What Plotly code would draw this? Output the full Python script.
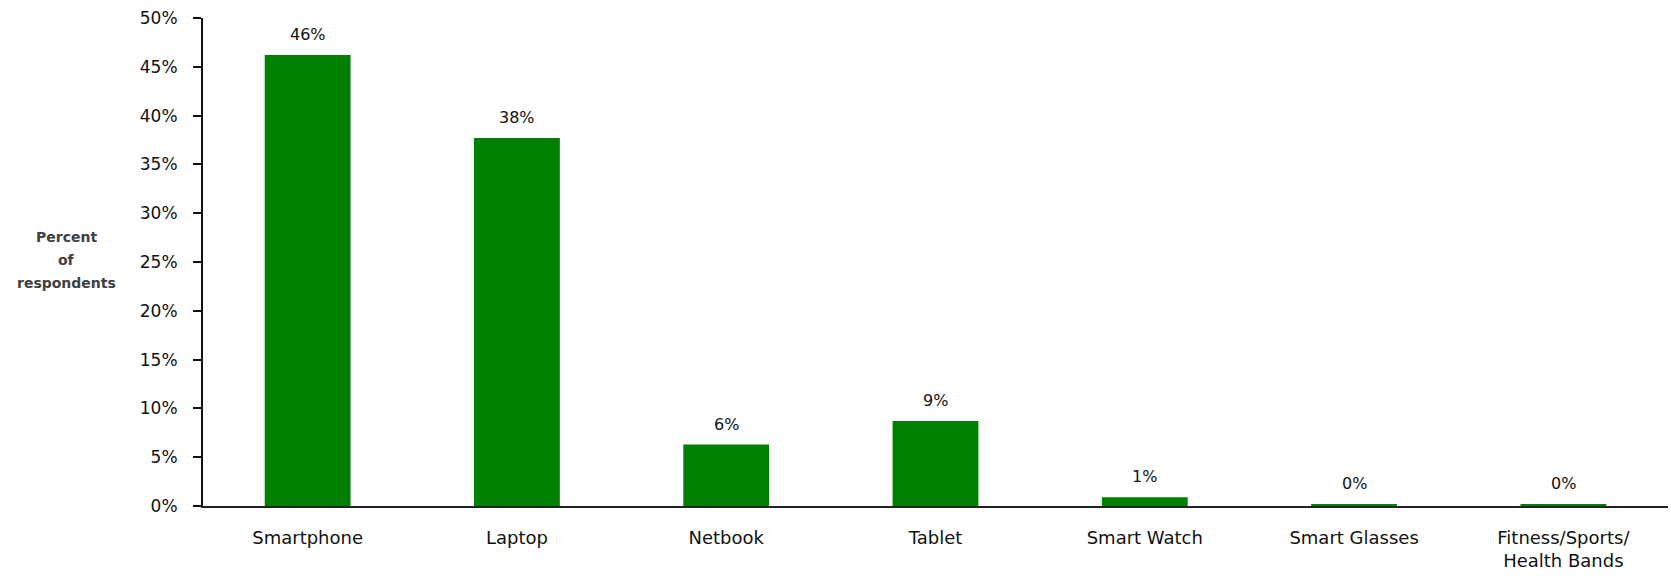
import plotly.graph_objects as go

# Device usage survey
categories = ["Smartphone", "Laptop", "Netbook", "Tablet", "Smart Watch",
              "Smart Glasses", "Fitness/Sports/<br>Health Bands"]
percent = [46.2, 37.7, 6.3, 8.7, 0.9, 0.2, 0.2]
tick_vals = [0, 5, 10, 15, 20, 25, 30, 35, 40, 45, 50]
tick_text = [f"{v}%" for v in tick_vals]
y_title_lines = ["Percent", "of", "respondents"]

FONT = "'DejaVu Sans', 'Open Sans', sans-serif"
GREEN = "#008000"

fig = go.Figure()
fig.add_trace(go.Bar(
    x=categories,
    y=percent,
    marker=dict(color=GREEN, line=dict(width=0)),
    hoverinfo="skip",
))

# value labels above each bar
for cat, val in zip(categories, percent):
    fig.add_annotation(
        x=cat, y=val, xref="x", yref="y",
        text=f"{val:.0f}%", showarrow=False,
        yanchor="bottom", yshift=9,
        font=dict(family=FONT, size=16, color="#111111"),
    )

# y-axis title, one line per annotation for wider line spacing
for i, line in enumerate(y_title_lines):
    fig.add_annotation(
        x=-0.093, y=0.552 - i * 0.048, xref="paper", yref="paper",
        text=f"<b>{line}</b>", showarrow=False,
        xanchor="center", yanchor="middle",
        font=dict(family=FONT, size=14, color="#404040"),
    )

fig.update_layout(
    width=1671, height=576,
    margin=dict(l=203, r=3, t=18, b=70),
    paper_bgcolor="white", plot_bgcolor="white",
    bargap=0.59,
    showlegend=False,
    font=dict(family=FONT, color="#111111"),
)
fig.update_xaxes(
    showline=True, linecolor="#222222", linewidth=2,
    ticks="", showgrid=False, zeroline=False,
    tickfont=dict(family=FONT, size=18, color="#111111"),
    ticklabelstandoff=14,
)
fig.update_yaxes(
    range=[0, 50], showline=True, linecolor="#111111", linewidth=2,
    ticks="outside", ticklen=8, tickwidth=1.5, tickcolor="#111111",
    tickvals=tick_vals, ticktext=tick_text,
    showgrid=False, zeroline=False,
    tickfont=dict(family=FONT, size=17, color="#111111"),
    ticklabelstandoff=12,
)

fig.write_html("out.html")
